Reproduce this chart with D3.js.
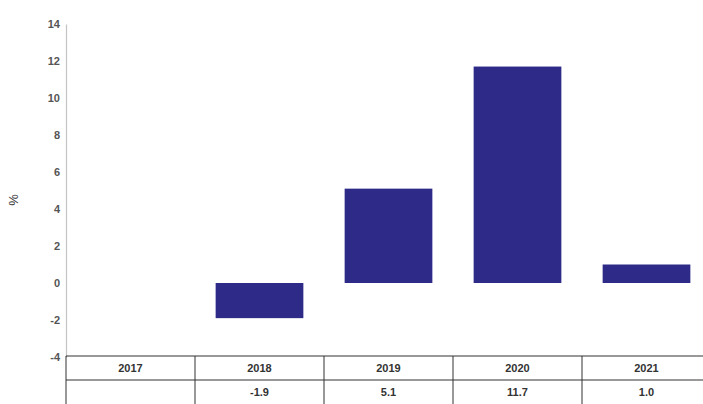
<!DOCTYPE html>
<html><head><meta charset="utf-8">
<script src="https://cdn.jsdelivr.net/npm/d3@7"></script>
<style>body{margin:0;background:#fff;}svg{display:block;}</style>
</head><body>
<svg id="c" width="703" height="404"></svg>
<script>
const years = ["2017","2018","2019","2020","2021"];
const values = [null, -1.9, 5.1, 11.7, 1.0];
const valueLabels = ["", "-1.9", "5.1", "11.7", "1.0"];
const yTicks = [-4,-2,0,2,4,6,8,10,12,14];

(function(){
const svg = d3.select("#c");
const mLeft = 66, mRight = 711, mTop = 24, mBottom = 357;
const x = d3.scaleBand().domain(years).range([mLeft, mRight]).paddingInner(0).paddingOuter(0);
const y = d3.scaleLinear().domain([-4, 14]).range([mBottom, mTop]);
const barW = x.bandwidth() * 0.68;

// y axis
const yAxis = d3.axisLeft(y).tickValues(yTicks).tickFormat(d => String(d)).tickSize(0).tickPadding(6);
const gy = svg.append("g").attr("transform", `translate(${mLeft},0)`).call(yAxis);
gy.select(".domain").attr("stroke", "#c4c4c4").attr("stroke-width", 1.2);
gy.selectAll("text").attr("font-family", "Liberation Sans, Arial, sans-serif")
  .attr("font-size", 11).attr("font-weight", "bold").attr("fill", "#555");

svg.append("text").attr("transform", "translate(18,200) rotate(-90)")
  .attr("text-anchor", "middle").attr("font-family", "Liberation Sans, Arial, sans-serif")
  .attr("font-size", 13).attr("fill", "#333").text("%");

// bars
svg.append("g").selectAll("rect").data(years.map((d,i)=>({year:d, v:values[i]})).filter(d=>d.v!==null))
  .join("rect")
  .attr("x", d => x(d.year) + (x.bandwidth()-barW)/2)
  .attr("width", barW)
  .attr("y", d => y(Math.max(0, d.v)))
  .attr("height", d => Math.abs(y(d.v) - y(0)))
  .attr("fill", "#2E2A88");

// table
const tTop = 356, tMid = 380, tBot = 405;
const tg = svg.append("g").attr("stroke", "#333").attr("stroke-width", 1);
tg.append("line").attr("x1", mLeft).attr("x2", mRight).attr("y1", tTop).attr("y2", tTop);
tg.append("line").attr("x1", mLeft).attr("x2", mRight).attr("y1", tMid).attr("y2", tMid);
years.forEach(yr => {
  tg.append("line").attr("x1", x(yr)).attr("x2", x(yr)).attr("y1", tTop).attr("y2", tBot);
});
const txt = svg.append("g").attr("font-family", "Liberation Sans, Arial, sans-serif")
  .attr("font-size", 11).attr("font-weight", "bold").attr("fill", "#333").attr("text-anchor", "middle");
years.forEach((yr,i) => {
  txt.append("text").attr("x", x(yr) + x.bandwidth()/2).attr("y", 372).text(yr);
  txt.append("text").attr("x", x(yr) + x.bandwidth()/2).attr("y", 396).text(valueLabels[i]);
});
})();
</script>
</body></html>
